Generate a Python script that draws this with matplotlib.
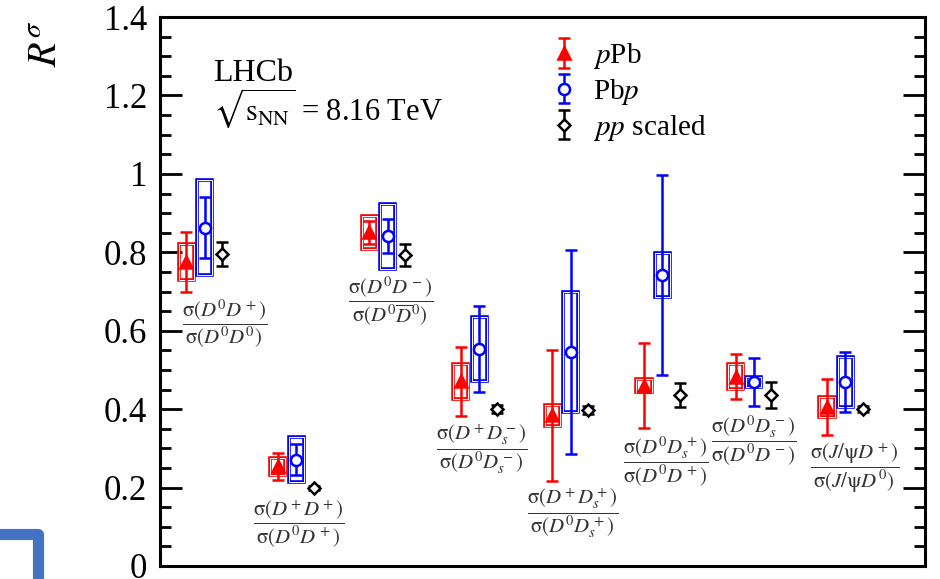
import numpy as np
import matplotlib.pyplot as plt
from matplotlib.patches import Rectangle
from matplotlib.lines import Line2D

plt.rcParams['font.family'] = ['Liberation Serif', 'DejaVu Serif']
plt.rcParams['mathtext.fontset'] = 'stix'

# cross-section ratios, one entry per group
ratio_labels = [
    r'$\dfrac{\mathrm{σ}(D^0D^+)}{\mathrm{σ}(D^0D^0)}$',
    r'$\dfrac{\mathrm{σ}(D^+D^+)}{\mathrm{σ}(D^0D^+)}$',
    r'$\dfrac{\mathrm{σ}(D^0D^-)}{\mathrm{σ}(D^0\overline{D}^0)}$',
    r'$\dfrac{\mathrm{σ}(D^+D_s^-)}{\mathrm{σ}(D^0D_s^-)}$',
    r'$\dfrac{\mathrm{σ}(D^+D_s^+)}{\mathrm{σ}(D^0D_s^+)}$',
    r'$\dfrac{\mathrm{σ}(D^0D_s^+)}{\mathrm{σ}(D^0D^+)}$',
    r'$\dfrac{\mathrm{σ}(D^0D_s^-)}{\mathrm{σ}(D^0D^-)}$',
    r'$\dfrac{\mathrm{σ}(J/\mathrm{ψ} D^+)}{\mathrm{σ}(J/\mathrm{ψ} D^0)}$',
]

ppb_value = [0.775, 0.254, 0.851, 0.471, 0.384, 0.460, 0.483, 0.405]
ppb_stat = [0.077, 0.034, 0.030, 0.088, 0.166, 0.108, 0.058, 0.072]
ppb_syst = [0.045, 0.021, 0.042, 0.044, 0.027, 0.017, 0.032, 0.026]

pbp_value = [0.863, 0.271, 0.841, 0.554, 0.546, 0.742, 0.469, 0.469]
pbp_stat = [0.078, 0.039, 0.044, 0.110, 0.260, 0.255, 0.062, 0.077]
pbp_syst = [0.121, 0.057, 0.083, 0.082, 0.153, 0.057, 0.013, 0.064]

pp_value = [0.796, 0.199, 0.793, 0.401, 0.398, 0.436, 0.436, 0.401]
pp_err = [0.031, 0.004, 0.029, 0.010, 0.010, 0.030, 0.032, 0.008]

# layout of the ratio captions under each group
label_x = [0.22, 1.03, 2.03, 3.03, 4.02, 5.03, 6.00, 7.10]
label_y = [0.617, 0.107, 0.676, 0.298, 0.135, 0.268, 0.321, 0.250]

fig = plt.figure(figsize=(9.4, 5.79), dpi=100)
ax = fig.add_axes([0.170, 0.0225, 0.814, 0.948])

centres = np.arange(len(ratio_labels))
box_w = 0.165


def draw_series(x, values, stat, syst, colour, marker, face, size, label):
    # systematic boxes drawn as a double outline
    if syst is not None:
        for xi, v, s in zip(x, values, syst):
            ax.add_patch(Rectangle((xi - box_w / 2, v - s), box_w, 2 * s,
                                   fill=False, edgecolor=colour, lw=2.6, zorder=2))
            ax.add_patch(Rectangle((xi - box_w / 2, v - s), box_w, 2 * s,
                                   fill=False, edgecolor='white', lw=0.7, zorder=2.1))
    return ax.errorbar(x, values, yerr=stat, fmt=marker, color=colour, mfc=face,
                       mec=colour, mew=1.8, ms=size, elinewidth=1.8, capsize=4,
                       capthick=1.8, label=label, zorder=3)


h1 = draw_series(centres - 0.2, ppb_value, ppb_stat, ppb_syst, 'red', '^', 'red', 8, r'$p$Pb')
h2 = draw_series(centres, pbp_value, pbp_stat, pbp_syst, 'blue', 'o', 'white', 8, r'Pb$p$')
h3 = draw_series(centres + 0.19, pp_value, pp_err, None, 'black', 'D', 'white', 6, r'$pp$ scaled')

for lx, ly, text in zip(label_x, label_y, ratio_labels):
    ax.text(lx, ly, text, ha='center', va='center', fontsize=15, color='#333333')

ax.set_xlim(-0.49, 7.87)
ax.set_ylim(0, 1.4)
ax.set_xticks([])
ax.set_yticks(np.arange(0, 1.41, 0.2))
ax.set_yticklabels(['0', '0.2', '0.4', '0.6', '0.8', '1', '1.2', '1.4'])
ax.set_yticks(np.arange(0, 1.41, 0.05), minor=True)
ax.tick_params(axis='y', which='both', direction='in', left=True, right=True,
               width=2, labelsize=25, pad=9)
ax.tick_params(axis='y', which='major', length=16)
ax.tick_params(axis='y', which='minor', length=8)
for sp in ax.spines.values():
    sp.set_linewidth(2.2)

ax.text(0.070, 0.898, 'LHCb', transform=ax.transAxes, fontsize=23, va='center')
ax.text(0.070, 0.834, r'$\sqrt{\mathrm{s}_{\mathrm{NN}}}$ = 8.16 TeV', transform=ax.transAxes,
        fontsize=22, va='center')

ax.legend(handles=[h1, h2, h3], loc='upper left', bbox_to_anchor=(0.479, 1.004),
          frameon=False, fontsize=21, handlelength=0.8, handletextpad=0.6,
          labelspacing=0.2)

fig.text(0.050, 0.925, r'$R^{\sigma}$', rotation=90, fontsize=29, ha='center', va='center')

# blue corner bracket at the lower left of the figure
fig.add_artist(Line2D([0, 37.5 / 940, 37.5 / 940], [1 - 534 / 579, 1 - 534 / 579, -0.05],
                      transform=fig.transFigure, lw=8, color='#4472C4',
                      solid_joinstyle='round', clip_on=False))

fig.savefig('out.png', dpi=100)
